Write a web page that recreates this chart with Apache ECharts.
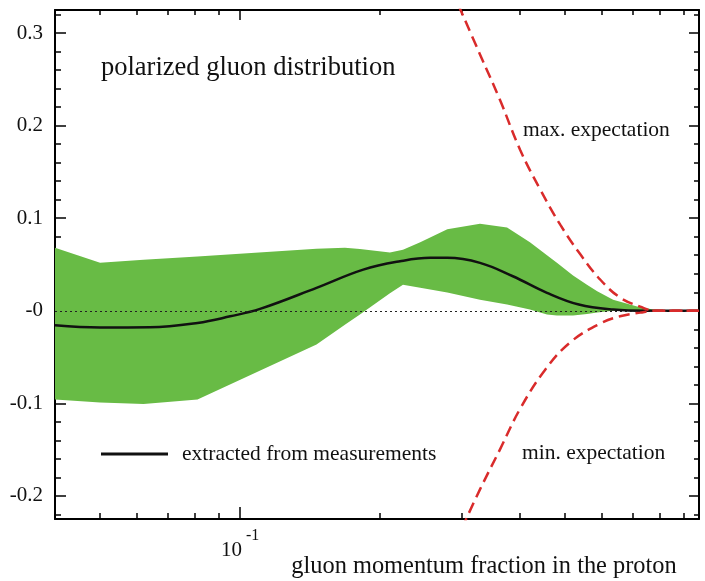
<!DOCTYPE html>
<html>
<head>
<meta charset="utf-8">
<script src="https://cdn.jsdelivr.net/npm/echarts@6/dist/echarts.min.js"></script>
<style>
  html, body { margin: 0; padding: 0; background: #fff; }
  #main { width: 705px; height: 581px; }
</style>
</head>
<body>
<div id="main"></div>
<script>
// band (uncertainty) samples
var bandX = [0.04, 0.05, 0.062, 0.081, 0.146, 0.168, 0.181, 0.210, 0.224, 0.244, 0.279, 0.328, 0.375, 0.420, 0.457, 0.480, 0.520, 0.557, 0.586, 0.634, 0.714, 0.773, 0.86, 0.97];
var bandUpper = [0.068, 0.052, 0.055, 0.0586, 0.067, 0.068, 0.0667, 0.063, 0.066, 0.074, 0.088, 0.094, 0.090, 0.074, 0.060, 0.052, 0.038, 0.028, 0.021, 0.012, 0.0045, 0.0013, 0, 0];
var bandLower = [-0.096, -0.099, -0.1007, -0.096, -0.0365, -0.0152, -0.004, 0.019, 0.028, 0.025, 0.0197, 0.012, 0.0067, 0.0013, -0.004, -0.005, -0.005, -0.0035, -0.002, 0, 0, 0, 0, 0];

// extracted curve
var curveX = [0.04, 0.05, 0.064, 0.081, 0.0952, 0.1104, 0.146, 0.184, 0.2208, 0.2563, 0.279, 0.328, 0.386, 0.457, 0.535, 0.634, 0.750, 0.884, 0.97];
var curveY = [-0.0157, -0.0181, -0.0178, -0.0131, -0.006, 0.002, 0.0248, 0.0445, 0.0535, 0.0572, 0.0572, 0.0518, 0.0373, 0.0194, 0.0067, 0.0013, 0, 0, 0];

// expectations
var maxX = [0.295, 0.328, 0.362, 0.40, 0.442, 0.488, 0.539, 0.594, 0.656, 0.725, 0.78, 0.97];
var maxY = [0.33, 0.277, 0.228, 0.174, 0.131, 0.093, 0.061, 0.034, 0.0143, 0.0045, 0, 0];
var minX = [0.30, 0.328, 0.362, 0.40, 0.453, 0.513, 0.594, 0.656, 0.725, 0.78, 0.97];
var minY = [-0.235, -0.193, -0.15, -0.106, -0.0636, -0.034, -0.014, -0.006, -0.002, 0, 0];

// ticks
var xMajor = [0.1];
var xMinor = [0.05, 0.06, 0.07, 0.08, 0.09, 0.2, 0.3, 0.4, 0.5, 0.6, 0.7, 0.8, 0.9];
var yMajor = [-0.2, -0.1, 0, 0.1, 0.2, 0.3];
var yMinor = [-0.22, -0.18, -0.16, -0.14, -0.12, -0.08, -0.06, -0.04, -0.02, 0.02, 0.04, 0.06, 0.08, 0.12, 0.14, 0.16, 0.18, 0.22, 0.24, 0.26, 0.28, 0.32];

var font = 'Liberation Serif';
var xMin = 0.04, xMax = 0.97, yMin = -0.225, yMax = 0.325;

function pairs(xs, ys) {
    return xs.map(function (x, i) { return [x, ys[i]]; });
}

function xAxisFor(pos, values, len, withLine) {
    return {
        type: 'log', position: pos, min: xMin, max: xMax,
        axisLine: { show: withLine, onZero: false, lineStyle: { color: '#000', width: 2 } },
        axisTick: { show: true, inside: true, length: len, customValues: values, lineStyle: { color: '#000', width: 1.5 } },
        axisLabel: { show: false },
        splitLine: { show: false }
    };
}
function yAxisFor(pos, values, len, withLine) {
    return {
        type: 'value', position: pos, min: yMin, max: yMax,
        axisLine: { show: withLine, onZero: false, lineStyle: { color: '#000', width: 2 } },
        axisTick: { show: true, inside: true, length: len, customValues: values, lineStyle: { color: '#000', width: 1.5 } },
        axisLabel: { show: false },
        splitLine: { show: false }
    };
}

var echart = echarts.init(document.getElementById('main'));

var xBottom = xAxisFor('bottom', xMajor, 12, true);
xBottom.axisLabel = {
    show: true, customValues: xMajor, margin: 9,
    formatter: function () { return '{a|10}{b|-1}'; },
    rich: {
        a: { fontFamily: font, fontSize: 21, color: '#111', lineHeight: 33, verticalAlign: 'bottom' },
        b: { fontFamily: font, fontSize: 16, color: '#111', lineHeight: 16, verticalAlign: 'top', padding: [0, 0, 0, 4] }
    }
};
xBottom.name = 'gluon momentum fraction in the proton';
xBottom.nameLocation = 'middle';
xBottom.nameGap = 36;
xBottom.nameMoveOverlap = false;
xBottom.nameTextStyle = { fontFamily: font, fontSize: 24.4, color: '#111', padding: [0, 0, 0, 214] };

var yLeft = yAxisFor('left', yMajor, 11, true);
yLeft.axisLabel = {
    show: true, customValues: yMajor, margin: 12,
    fontFamily: font, fontSize: 21, color: '#111',
    formatter: function (v) {
        var s = (Math.round(v * 10) / 10).toFixed(1);
        return s === '0.0' || s === '-0.0' ? '-0' : s;
    }
};

var option = {
    animation: false,
    grid: { left: 55, right: 6, top: 10, bottom: 62, outerBoundsMode: 'none', containLabel: false },
    legend: {
        left: 101, top: 443, padding: 0,
        data: ['extracted from measurements'],
        icon: 'rect', itemWidth: 67, itemHeight: 3,
        selectedMode: false,
        textStyle: { fontFamily: font, fontSize: 21.5, color: '#111', padding: [0, 0, 0, 9] }
    },
    xAxis: [
        xBottom,
        xAxisFor('bottom', xMinor, 6, false),
        xAxisFor('top', xMajor, 10, true),
        xAxisFor('top', xMinor, 5, false)
    ],
    yAxis: [
        yLeft,
        yAxisFor('left', yMinor, 6, false),
        yAxisFor('right', yMajor, 10, true),
        yAxisFor('right', yMinor, 5, false)
    ],
    graphic: [
        { type: 'text', z: 100, x: 101, y: 68, style: { text: 'polarized gluon distribution', font: '26.5px ' + font, fill: '#111', verticalAlign: 'middle' } },
        { type: 'text', z: 100, x: 523, y: 130, style: { text: 'max. expectation', font: '21.5px ' + font, fill: '#111', verticalAlign: 'middle' } },
        { type: 'text', z: 100, x: 522, y: 453, style: { text: 'min. expectation', font: '21.5px ' + font, fill: '#111', verticalAlign: 'middle' } }
    ],
    series: [
        {
            name: 'band', type: 'custom', z: 1, silent: true,
            data: bandX.map(function (x, i) { return [x, bandLower[i], bandUpper[i]]; }),
            encode: { x: 0, y: [1, 2] },
            renderItem: function (params, api) {
                if (params.dataIndex !== 0) return null;
                var pts = [];
                for (var i = 0; i < bandX.length; i++) pts.push(api.coord([bandX[i], bandUpper[i]]));
                for (var j = bandX.length - 1; j >= 0; j--) pts.push(api.coord([bandX[j], bandLower[j]]));
                return {
                    type: 'polygon',
                    shape: { points: pts },
                    style: { fill: '#68bb45', stroke: null }
                };
            }
        },
        {
            name: 'extracted from measurements', type: 'line',
            data: pairs(curveX, curveY), symbol: 'none', smooth: 0.4,
            color: '#111',
            lineStyle: { color: '#111', width: 2.5 }, z: 4,
            markLine: {
                silent: true, symbol: 'none', label: { show: false },
                lineStyle: { color: '#222', type: [2, 3], width: 1.2 },
                data: [{ yAxis: 0 }]
            }
        },
        {
            name: 'max. expectation', type: 'line',
            data: pairs(maxX, maxY), symbol: 'none', smooth: 0.4,
            lineStyle: { color: '#d92b2b', width: 2.5, type: [11, 6] }, z: 5
        },
        {
            name: 'min. expectation', type: 'line',
            data: pairs(minX, minY), symbol: 'none', smooth: 0.4,
            lineStyle: { color: '#d92b2b', width: 2.5, type: [11, 6] }, z: 5
        }
    ]
};
echart.setOption(option);
</script>
</body>
</html>
